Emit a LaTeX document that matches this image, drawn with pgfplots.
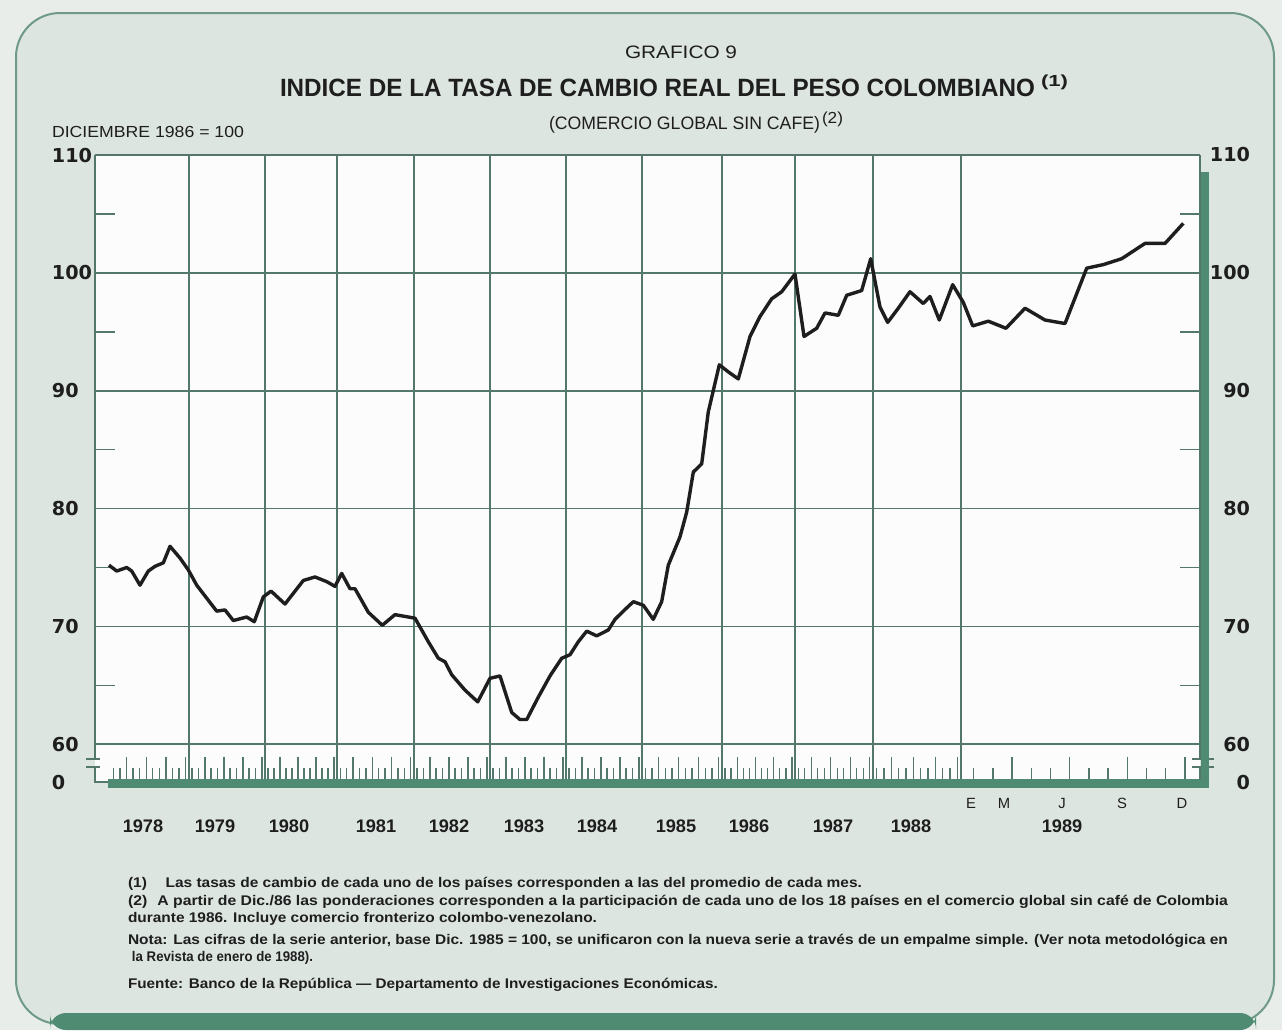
\documentclass[border=0pt]{standalone}
\usepackage{pgfplots}
\pgfplotsset{compat=1.18}
\usepackage{fontspec}
\setmainfont{Liberation Sans}
\newfontfamily\dv{DejaVu Sans}
\usepackage{graphicx}

\definecolor{outer}{HTML}{E8EDEA}
\definecolor{paper}{HTML}{DDE5E0}
\definecolor{framec}{HTML}{6E9A87}
\definecolor{band}{HTML}{4F8A72}
\definecolor{plotbg}{HTML}{FBFCFB}
\definecolor{gridc}{HTML}{53776A}
\definecolor{ink}{HTML}{1E1E1E}

\newcommand\fitw[2]{\setbox0\hbox{#2}\pgfmathsetmacro\sx{#1/\the\wd0}\scalebox{\sx}[1]{\box0}}

\begin{document}
\begin{tikzpicture}[x=0.5pt,y=0.5pt,every node/.style={inner sep=0pt,outer sep=0pt,text=ink}]
% paper and frame
\fill[outer] (0,0) rectangle (1282,-1030);
\filldraw[fill=paper,draw=framec,line width=1pt,rounded corners=22pt] (16,-13) rectangle (1274,-1024);
\fill[band,rounded corners=8pt] (50,-1013) rectangle (1256,-1030);

\begin{axis}[
  at={(47.5pt,-391pt)}, anchor=south west,
  scale only axis, width=552.5pt, height=313.5pt,
  xmin=0, xmax=170, ymin=56.8, ymax=110,
  axis line style={draw=none},
  axis background/.style={fill=plotbg},
  xtick={14.46,26.15,37.23,49.08,60.77,72.46,84.15,96.46,107.69,119.69,133.23},
  xticklabels={},
  xmajorgrids, ymajorgrids,
  ytick={56.8,60,70,80,90,100,110},
  yticklabels={0,60,70,80,90,100,110},
  yticklabel style={font=\dv\bfseries\fontsize{9.6}{10}\selectfont, anchor=west, xshift=-21.5pt, inner sep=0pt, text=ink},
  grid style={gridc, line width=0.8pt},
  major tick length=0pt,
  minor ytick={65,75,85,95,105},
  minor tick length=10pt, tick align=inside, ytick pos=both,
  minor tick style={gridc, line width=0.8pt},
  clip=false,
]
% borders with axis breaks
\draw[gridc, line width=0.9pt] (axis cs:0,110) -- (axis cs:0,58.75);
\draw[gridc, line width=0.9pt] (axis cs:0,58.05) -- (axis cs:0,56.8) -- (axis cs:2.2,56.8);
\draw[gridc, line width=0.9pt] (axis cs:170,110) -- (axis cs:170,58.75);
\draw[gridc, line width=0.9pt] (axis cs:170,58.05) -- (axis cs:170,56.8);
\draw[gridc, line width=0.8pt] (axis cs:-1.4,58.75) -- (axis cs:0.8,58.75) (axis cs:-1.4,58.05) -- (axis cs:0.8,58.05);
\draw[gridc, line width=0.8pt] (axis cs:168.8,58.75) -- (axis cs:172.2,58.75) (axis cs:168.8,58.05) -- (axis cs:172.2,58.05);

\addplot[ink, line width=1.7pt, line join=round, mark=none] coordinates {
(2.15,75.2)(3.34,74.7)(4.88,75.0)(5.65,74.7)(6.92,73.5)(8.20,74.7)(9.23,75.1)(10.51,75.4)(11.54,76.8)(13.08,75.8)
(14.35,74.8)(15.65,73.5)(17.18,72.4)(18.72,71.3)(20.0,71.4)(21.28,70.5)(23.34,70.8)(24.51,70.4)(25.89,72.5)(27.08,73.0)
(29.23,71.9)(32.05,73.9)(33.85,74.2)(35.65,73.8)(36.92,73.4)(37.95,74.5)(39.23,73.2)(40.0,73.2)(42.05,71.2)(44.2,70.1)
(46.15,71.0)(49.23,70.7)(51.28,68.7)(52.82,67.3)(53.85,67.0)(54.88,65.9)(56.92,64.6)(58.88,63.6)(60.77,65.6)(62.31,65.8)
(64.11,62.7)(65.38,62.1)(66.42,62.1)(68.2,64.0)(70.0,65.8)(71.8,67.3)(73.08,67.6)(74.35,68.7)(75.65,69.6)(77.18,69.2)
(78.97,69.7)(80.0,70.6)(81.28,71.3)(82.82,72.1)(84.35,71.8)(85.89,70.6)(87.18,72.1)(88.2,75.2)(90.0,77.6)(91.03,79.7)
(92.05,83.1)(93.34,83.8)(94.35,88.2)(96.05,92.2)(97.43,91.6)(98.97,91.0)(100.77,94.6)(102.31,96.3)(104.11,97.8)(105.65,98.4)
(107.69,99.9)(109.08,94.6)(111.03,95.3)(112.31,96.6)(114.35,96.4)(115.65,98.1)(117.95,98.5)(119.34,101.2)(120.77,97.1)(121.95,95.8)
(123.58,97.0)(125.38,98.4)(127.43,97.4)(128.46,98.0)(129.89,96.0)(131.95,99.0)(133.58,97.5)(135.03,95.5)(137.43,95.9)(140.15,95.3)
(143.08,97.0)(146.15,96.0)(149.23,95.7)(152.57,100.4)(155.12,100.7)(157.95,101.2)(161.54,102.5)(164.62,102.5)(167.43,104.2)
};
\end{axis}

% green shadow strips
\fill[band] (1200.5,-172) rectangle (1209,-788);
\fill[band] (108,-779) rectangle (1209,-788);

% month ticks
\foreach \a/\b in {110/189,189/265,265/337,337/414,414/490,490/566,566/642,642/722,722/795,795/873,873/961}{
  \foreach \m in {1,...,12}{
    \pgfmathsetmacro\xx{\a+(\b-\a)*(\m-0.5)/12}
    \pgfmathsetmacro\hh{mod(\m,3)==0 ? 22 : 11}
    \draw[gridc, line width=0.7pt] (\xx,-779) -- (\xx,-779+\hh);
  }}
\foreach \k in {1,...,12}{
  \pgfmathsetmacro\xx{954.5+19.2*\k}
  \pgfmathsetmacro\hh{mod(\k,3)==0 ? 22 : 11}
  \draw[gridc, line width=0.7pt] (\xx,-779) -- (\xx,-779+\hh);
}

% right tick labels
\foreach \v/\p in {110/155,100/272.9,90/390.7,80/508.6,70/626.4,60/744.3,0/782}{
  \node[anchor=east,font=\dv\bfseries\fontsize{9.6}{10}\selectfont] at (1250,-\p) {\v};
}

% year labels
\foreach \yr/\xp in {1978/143,1979/215,1980/289,1981/376,1982/449,1983/524,1984/597,1985/676,1986/749,1987/833,1988/911,1989/1062}{
  \node[anchor=base,font=\bfseries\fontsize{9.1}{10}\selectfont] at (\xp,-832) {\yr};
}
\foreach \mo/\xp in {E/971,M/1004,J/1062,S/1122,D/1182}{
  \node[anchor=base,font=\fontsize{7.4}{8}\selectfont] at (\xp,-808) {\mo};
}

% titles
\node[anchor=base west] at (625,-58) {\fitw{56pt}{\fontsize{9}{10}\selectfont GRAFICO 9}};
\node[anchor=base west] at (280,-96) {\fitw{377.5pt}{\bfseries\fontsize{12.5}{14}\selectfont INDICE DE LA TASA DE CAMBIO REAL DEL PESO COLOMBIANO}};
\node[anchor=base west] at (1041,-86) {\fitw{13.5pt}{\bfseries\fontsize{8}{9}\selectfont (1)}};
\node[anchor=base west] at (549,-129) {\fitw{135.5pt}{\fontsize{9}{10}\selectfont (COMERCIO GLOBAL SIN CAFE)}};
\node[anchor=base west] at (822,-123) {\fitw{10.5pt}{\fontsize{8}{9}\selectfont (2)}};
\node[anchor=base west] at (52,-137) {\fitw{96pt}{\fontsize{8}{9}\selectfont DICIEMBRE 1986 = 100}};

% footnotes
\node[anchor=base west] at (128,-887) {\fitw{367pt}{\bfseries\fontsize{7}{8}\selectfont\makebox[17pt][l]{(1)}Las tasas de cambio de cada uno de los países corresponden a las del promedio de cada mes.}};
\node[anchor=base west] at (128,-905) {\fitw{550pt}{\bfseries\fontsize{7}{8}\selectfont\makebox[13pt][l]{(2)}A partir de Dic./86 las ponderaciones corresponden a la participación de cada uno de los 18 países en el comercio global sin café de Colombia}};
\node[anchor=base west] at (128,-922) {\fitw{234.5pt}{\bfseries\fontsize{7}{8}\selectfont durante 1986. Incluye comercio fronterizo colombo-venezolano.}};
\node[anchor=base west] at (128,-944) {\fitw{550pt}{\bfseries\fontsize{7}{8}\selectfont Nota: Las cifras de la serie anterior, base Dic. 1985 = 100, se unificaron con la nueva serie a través de un empalme simple. (Ver nota metodológica en}};
\node[anchor=base west] at (132,-961) {\fitw{90.5pt}{\bfseries\fontsize{7}{8}\selectfont la Revista de enero de 1988).}};
\node[anchor=base west] at (128,-988) {\fitw{295pt}{\bfseries\fontsize{7}{8}\selectfont Fuente: Banco de la República --- Departamento de Investigaciones Económicas.}};

\pgfresetboundingbox
\useasboundingbox (0,0) rectangle (1282,-1030);
\end{tikzpicture}
\end{document}
